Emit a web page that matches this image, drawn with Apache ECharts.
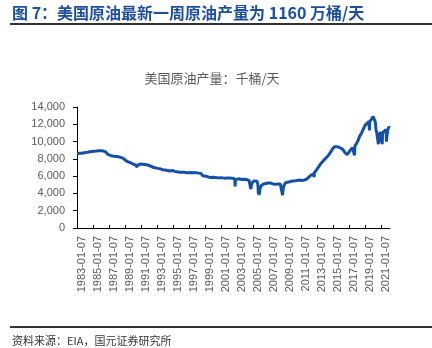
<!DOCTYPE html>
<html>
<head>
<meta charset="utf-8">
<script src="https://cdn.jsdelivr.net/npm/echarts@6/dist/echarts.min.js"></script>
<style>
  html, body { margin: 0; padding: 0; background: #fff; }
  #chart { width: 432px; height: 348px; }
</style>
</head>
<body>
<div id="chart"></div>
<script>
// Decimal-year positions of the readings (weekly series)
const years = [
  1983.0, 1983.3, 1983.6, 1983.9, 1984.2, 1984.5, 1984.8, 1985.1, 1985.4, 1985.7,
  1986.0, 1986.3, 1986.6, 1986.8, 1987.0, 1987.3, 1987.6, 1987.9, 1988.2, 1988.5,
  1988.8, 1989.1, 1989.4, 1989.7, 1990.0, 1990.3, 1990.5, 1990.6, 1990.9, 1991.2,
  1991.5, 1991.8, 1992.1, 1992.3, 1992.6, 1992.7, 1992.8, 1993.1, 1993.4, 1993.7,
  1994.0, 1994.3, 1994.6, 1994.9, 1995.2, 1995.5, 1995.8, 1996.1, 1996.4, 1996.7,
  1997.0, 1997.3, 1997.6, 1997.9, 1998.2, 1998.5, 1998.7, 1998.8, 1999.1, 1999.4,
  1999.7, 2000.0, 2000.3, 2000.6, 2000.9, 2001.2, 2001.5, 2001.8, 2002.1, 2002.4,
  2002.7, 2002.75, 2002.8, 2003.0, 2003.3, 2003.6, 2003.9, 2004.2, 2004.5, 2004.68,
  2004.72, 2004.8, 2004.95, 2005.2, 2005.5, 2005.6, 2005.66, 2005.71, 2005.75, 2005.85,
  2006.0, 2006.3, 2006.6, 2006.9, 2007.2, 2007.5, 2007.8, 2008.1, 2008.4, 2008.6,
  2008.68, 2008.72, 2008.8, 2009.0, 2009.3, 2009.6, 2009.9, 2010.2, 2010.5, 2010.8,
  2011.1, 2011.4, 2011.7, 2011.9, 2012.2, 2012.5, 2012.63, 2012.66, 2012.9, 2013.2,
  2013.5, 2013.8, 2014.1, 2014.4, 2014.7, 2014.95, 2015.2, 2015.4, 2015.6, 2015.9,
  2016.2, 2016.5, 2016.75, 2016.9, 2017.1, 2017.4, 2017.6, 2017.67, 2017.72, 2017.9,
  2018.1, 2018.3, 2018.5, 2018.7, 2018.85, 2019.0, 2019.2, 2019.45, 2019.53, 2019.56,
  2019.8, 2020.0, 2020.15, 2020.25, 2020.35, 2020.45, 2020.6, 2020.65, 2020.68, 2020.76,
  2020.78, 2020.8, 2020.95, 2021.1, 2021.13, 2021.17, 2021.4, 2021.6, 2021.66, 2021.7,
  2021.8, 2021.95, 2022.05
];
// 美国原油产量（千桶/天）
const production = [
  8600, 8650, 8640, 8700, 8750, 8800, 8850, 8880, 8900, 8930,
  8950, 8900, 8800, 8550, 8400, 8350, 8300, 8280, 8250, 8150,
  8050, 7800, 7650, 7550, 7400, 7300, 7050, 7300, 7400, 7380,
  7350, 7300, 7200, 7150, 7000, 6800, 7050, 6900, 6850, 6750,
  6700, 6650, 6600, 6650, 6550, 6500, 6450, 6450, 6450, 6400,
  6400, 6420, 6400, 6400, 6350, 6300, 6050, 6250, 6000, 5900,
  5850, 5880, 5850, 5800, 5820, 5800, 5750, 5800, 5780, 5750,
  5700, 4800, 5600, 5750, 5700, 5600, 5650, 5600, 5500, 5400,
  4500, 5000, 5350, 5450, 5400, 5000, 3900, 4300, 3800, 4500,
  4900, 5100, 5150, 5200, 5200, 5100, 5050, 5100, 5100, 5000,
  3800, 4200, 4800, 5200, 5300, 5350, 5450, 5450, 5500, 5550,
  5500, 5550, 5650, 5800, 6100, 6250, 5900, 6400, 6700, 7100,
  7500, 7800, 8100, 8400, 8800, 9200, 9400, 9600, 9400, 9250,
  9100, 8700, 8500, 8700, 8950, 9300, 9450, 8400, 9500, 9750,
  10100, 10600, 10900, 11000, 11600, 11900, 12100, 12300, 11300, 12300,
  12600, 12900, 13100, 12300, 11400, 11000, 11000, 9700, 10800, 11000,
  9900, 11000, 11000, 11000, 9700, 11000, 11000, 11400, 10000, 10500,
  11300, 11700, 11600
];
const tickYears = [1983, 1985, 1987, 1989, 1991, 1993, 1995, 1997, 1999, 2001,
  2003, 2005, 2007, 2009, 2011, 2013, 2015, 2017, 2019, 2021];
const labelYears = tickYears;

const titleText = '图 7：美国原油最新一周原油产量为 1160 万桶/天';
const subTitle = '美国原油产量：千桶/天';
const sourceText = '资料来源：EIA，国元证券研究所';

// Excel places the rotated date labels slightly right of their tick marks
const labelShift = 0.6;

const chart = echarts.init(document.getElementById('chart'), null, { renderer: 'canvas' });
const seriesData = years.map((y, i) => [y, production[i]]);
const grey = '#595959';
const font = '"Liberation Sans", Arial, sans-serif';
const cjk = '"Noto Sans CJK SC", sans-serif';

chart.setOption({
  animation: false,
  backgroundColor: '#fff',
  grid: { left: 77, right: 42, top: 107, bottom: 120, containLabel: false },
  xAxis: {
    type: 'value',
    min: 1983,
    max: 2022.1,
    splitLine: { show: false },
    axisLine: { show: true, lineStyle: { color: '#000', width: 1 } },
    axisTick: { show: true, inside: true, length: 3, customValues: tickYears, lineStyle: { color: '#000' } },
    axisLabel: {
      customValues: labelYears.map(y => y + labelShift),
      rotate: 90,
      margin: 8,
      fontSize: 11,
      color: grey,
      fontFamily: font,
      formatter: v => Math.round(v - labelShift) + '-01-07'
    }
  },
  yAxis: {
    type: 'value',
    min: 0,
    max: 14000,
    interval: 2000,
    splitLine: { show: false },
    axisLine: { show: true, lineStyle: { color: '#000', width: 1 } },
    axisTick: { show: true, inside: false, length: 4, lineStyle: { color: '#000' } },
    axisLabel: {
      margin: 12,
      fontSize: 11,
      color: grey,
      fontFamily: font,
      formatter: v => v.toLocaleString('en-US')
    }
  },
  series: [{
    type: 'line',
    data: seriesData,
    showSymbol: false,
    lineStyle: { color: '#1450A6', width: 3 },
    itemStyle: { color: '#1450A6' }
  }],
  graphic: [
    { type: 'text', x: 12, y: 13, style: { text: titleText, fill: '#1D4F9E', font: 'bold 16px ' + cjk, verticalAlign: 'middle' } },
    { type: 'line', shape: { x1: 10, y1: 24, x2: 432, y2: 24 }, style: { stroke: '#333', lineWidth: 2 } },
    { type: 'text', x: 212, y: 78, style: { text: subTitle, fill: grey, font: '13px ' + cjk, align: 'center', verticalAlign: 'middle' } },
    { type: 'line', shape: { x1: 10, y1: 327, x2: 432, y2: 327 }, style: { stroke: '#333', lineWidth: 2 } },
    { type: 'text', x: 12, y: 341, style: { text: sourceText, fill: '#333', font: '11px ' + cjk, verticalAlign: 'middle' } }
  ]
});
</script>
</body>
</html>
